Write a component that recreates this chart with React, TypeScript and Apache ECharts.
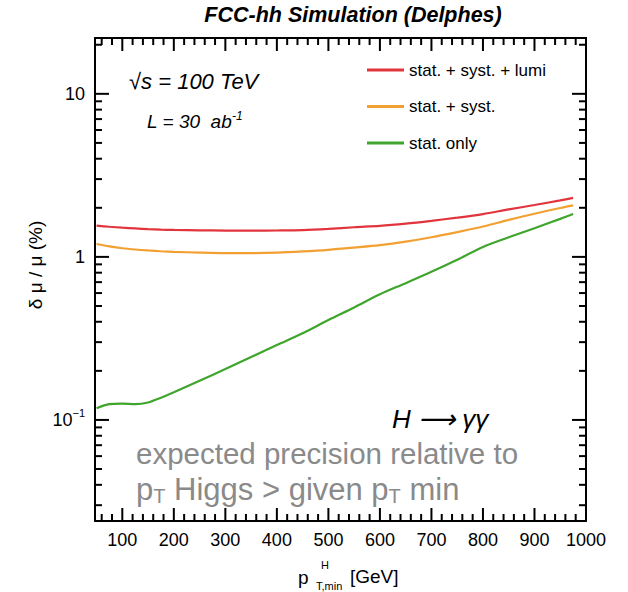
import { useEffect, useRef } from "react";
import * as echarts from "echarts";

const ptMin = [50, 75, 100, 125, 150, 175, 200, 250, 300, 350, 400, 450, 500, 550, 600, 650, 700, 750, 800, 850, 900, 950, 975];
const statSystLumi = [1.555, 1.53, 1.51, 1.495, 1.48, 1.47, 1.463, 1.455, 1.45, 1.449, 1.452, 1.46, 1.485, 1.52, 1.55, 1.6, 1.665, 1.74, 1.83, 1.955, 2.08, 2.22, 2.3];
const statSyst = [1.2, 1.16, 1.13, 1.11, 1.095, 1.083, 1.074, 1.062, 1.055, 1.055, 1.062, 1.08, 1.105, 1.14, 1.18, 1.24, 1.32, 1.42, 1.535, 1.686, 1.84, 1.995, 2.07];
const statOnly = [0.118, 0.125, 0.126, 0.125, 0.128, 0.137, 0.148, 0.174, 0.205, 0.243, 0.288, 0.34, 0.41, 0.49, 0.59, 0.69, 0.81, 0.96, 1.15, 1.318, 1.5, 1.71, 1.83];
const seriesNames = ["stat. + syst. + lumi", "stat. + syst.", "stat. only"];
const seriesColors = ["#e2343c", "#f3a032", "#3fa52c"];

const X_MIN = 47;
const X_MAX = 1000;
const Y_MIN = 0.024;
const Y_MAX = 22;
const xMajorTicks = [100, 200, 300, 400, 500, 600, 700, 800, 900];
const xMinorTicks = [60, 80, 120, 140, 160, 180, 220, 240, 260, 280, 320, 340, 360, 380, 420, 440, 460, 480, 520, 540, 560, 580, 620, 640, 660, 680, 720, 740, 760, 780, 820, 840, 860, 880, 920, 940, 960, 980];
const yMajorTicks = [0.1, 1, 10];
const yMinorTicks = [0.03, 0.04, 0.05, 0.06, 0.07, 0.08, 0.09, 0.2, 0.3, 0.4, 0.5, 0.6, 0.7, 0.8, 0.9, 2, 3, 4, 5, 6, 7, 8, 9, 20];

const FONT = '"Liberation Sans", Arial, Helvetica, sans-serif';
const TICK_COLOR = "#000";

export default function App() {
  const ref = useRef<HTMLDivElement>(null);
  useEffect(() => {
    if (!ref.current) return;
    const chart = echarts.init(ref.current, null, { renderer: "svg" });
    const mk = (vals: number[]) => ptMin.map((x, i) => [x, vals[i]]);
    const allVals = [statSystLumi, statSyst, statOnly];
    const lineSeries = allVals.map((vals, i) => ({
      name: seriesNames[i],
      type: "line",
      data: mk(vals),
      smooth: 0.3,
      showSymbol: false,
      symbol: "circle",
      symbolSize: 3,
      lineStyle: { color: seriesColors[i], width: 2.2 },
      itemStyle: { color: seriesColors[i] },
      z: 3,
    }));
    const yTickSeries = (vals: number[], len: number, w: number) => ({
      type: "custom",
      silent: true,
      clip: false,
      data: vals.map((v) => [X_MIN, v]),
      renderItem: (_p: any, api: any) => {
        const v = api.value(1);
        const a = api.coord([X_MIN, v]);
        const b = api.coord([X_MAX, v]);
        return {
          type: "group",
          children: [
            { type: "line", shape: { x1: a[0], y1: a[1], x2: a[0] + len, y2: a[1] }, style: { stroke: TICK_COLOR, lineWidth: w } },
            { type: "line", shape: { x1: b[0] - len, y1: b[1], x2: b[0], y2: b[1] }, style: { stroke: TICK_COLOR, lineWidth: w } },
          ],
        };
      },
    });
    const xTickSeries = (vals: number[], len: number, w: number) => ({
      type: "custom",
      silent: true,
      clip: false,
      data: vals.map((v) => [v, Y_MIN]),
      renderItem: (_p: any, api: any) => {
        const v = api.value(0);
        const a = api.coord([v, Y_MIN]);
        const b = api.coord([v, Y_MAX]);
        return {
          type: "group",
          children: [
            { type: "line", shape: { x1: a[0], y1: a[1], x2: a[0], y2: a[1] - len }, style: { stroke: TICK_COLOR, lineWidth: w } },
            { type: "line", shape: { x1: b[0], y1: b[1], x2: b[0], y2: b[1] + len }, style: { stroke: TICK_COLOR, lineWidth: w } },
          ],
        };
      },
    });
    const frameAxis = { show: true, onZero: false, lineStyle: { color: "#000", width: 2 } };
    const option: any = {
      animation: false,
      backgroundColor: "#fff",
      textStyle: { fontFamily: FONT },
      grid: { left: 95, top: 38, width: 491, height: 483, show: false },
      legend: {
        data: seriesNames,
        orient: "vertical",
        left: 362,
        top: 55,
        itemWidth: 37,
        itemHeight: 3,
        itemGap: 16.5,
        icon: "rect",
        textStyle: { fontFamily: FONT, fontSize: 17, color: "#000", lineHeight: 20 },
      },
      xAxis: [
        {
          type: "value",
          min: X_MIN,
          max: X_MAX,
          splitNumber: 10,
          axisLine: frameAxis,
          axisTick: { show: false },
          axisLabel: { showMinLabel: false, fontSize: 18, color: "#000", margin: 10, fontFamily: FONT, formatter: (v: number) => String(Math.round(v)) },
          splitLine: { show: false },
        },
        {
          type: "value",
          position: "top",
          min: X_MIN,
          max: X_MAX,
          axisLine: frameAxis,
          axisTick: { show: false },
          axisLabel: { show: false },
          splitLine: { show: false },
        },
      ],
      yAxis: [
        {
          type: "log",
          logBase: 10,
          min: Y_MIN,
          max: Y_MAX,
          axisLine: frameAxis,
          axisTick: { show: false },
          axisLabel: {
            showMinLabel: false,
            showMaxLabel: false,
            margin: 10,
            color: "#000",
            fontFamily: FONT,
            formatter: (v: number) => {
              const e = Math.round(Math.log10(v));
              if (e === 0) return "{b|1}";
              if (e === 1) return "{b|10}";
              return "{b|10}{s|\u2212" + Math.abs(e) + "}";
            },
            rich: {
              b: { fontSize: 18, lineHeight: 24, fontFamily: FONT, color: "#000" },
              s: { fontSize: 11, verticalAlign: "top", lineHeight: 14, fontFamily: FONT, color: "#000" },
            },
          },
          splitLine: { show: false },
        },
        {
          type: "log",
          logBase: 10,
          position: "right",
          min: Y_MIN,
          max: Y_MAX,
          axisLine: frameAxis,
          axisTick: { show: false },
          axisLabel: { show: false },
          splitLine: { show: false },
        },
      ],
      series: [
        ...lineSeries,
        yTickSeries(yMajorTicks, 14, 2),
        yTickSeries(yMinorTicks, 7, 2),
        xTickSeries(xMajorTicks, 13, 2),
        xTickSeries(xMinorTicks, 7, 2),
      ],
      graphic: [
        {
          type: "text",
          x: 353,
          y: 15,
          style: { text: "FCC-hh Simulation (Delphes)", font: `italic bold 21.5px ${FONT}`, fill: "#000", textAlign: "center", textVerticalAlign: "middle" },
        },
        {
          type: "text",
          x: 129,
          y: 81,
          style: { text: "\u221As = 100 TeV", font: `italic 22px ${FONT}`, fill: "#000", textAlign: "left", textVerticalAlign: "middle" },
        },
        {
          type: "text",
          x: 147,
          y: 121,
          style: {
            text: "{m|L = 30  ab}{s|-1}",
            textAlign: "left",
            textVerticalAlign: "middle",
            rich: {
              m: { font: `italic 19px ${FONT}`, fill: "#000", lineHeight: 22 },
              s: { font: `italic 12px ${FONT}`, fill: "#000", verticalAlign: "top", lineHeight: 12 },
            },
          },
        },
        {
          type: "text",
          x: 392,
          y: 419,
          style: { text: "H \u27F6 \u03B3\u03B3", font: `italic 26px ${FONT}`, fill: "#000", textAlign: "left", textVerticalAlign: "middle" },
        },
        {
          type: "text",
          x: 136,
          y: 453,
          style: { text: "expected precision relative to", font: `29.5px ${FONT}`, fill: "#8a8a8a", textAlign: "left", textVerticalAlign: "middle" },
        },
        {
          type: "text",
          x: 136,
          y: 489,
          style: {
            text: "{a|p}{b|T}{a| Higgs > given p}{b|T}{a| min}",
            textAlign: "left",
            textVerticalAlign: "middle",
            rich: {
              a: { font: `31px ${FONT}`, fill: "#8a8a8a", lineHeight: 34 },
              b: { font: `20px ${FONT}`, fill: "#8a8a8a", verticalAlign: "bottom", lineHeight: 22 },
            },
          },
        },
        {
          type: "text",
          x: 35,
          y: 265,
          rotation: Math.PI / 2,
          style: { text: "\u03B4 \u03BC / \u03BC (%)", font: `19px ${FONT}`, fill: "#000", textAlign: "center", textVerticalAlign: "middle" },
        },
        {
          type: "text",
          x: 298,
          y: 577,
          style: { text: "p", font: `19px ${FONT}`, fill: "#000", textAlign: "left", textVerticalAlign: "middle" },
        },
        {
          type: "text",
          x: 321,
          y: 565,
          style: { text: "H", font: `11px ${FONT}`, fill: "#000", textAlign: "left", textVerticalAlign: "middle" },
        },
        {
          type: "text",
          x: 316,
          y: 586,
          style: { text: "T,min", font: `11px ${FONT}`, fill: "#000", textAlign: "left", textVerticalAlign: "middle" },
        },
        {
          type: "text",
          x: 350,
          y: 576,
          style: { text: "[GeV]", font: `19px ${FONT}`, fill: "#000", textAlign: "left", textVerticalAlign: "middle" },
        },
      ],
    };
    chart.setOption(option);
    return () => chart.dispose();
  }, []);
  return <div ref={ref} style={{ position: "fixed", left: 0, top: 0, width: 628, height: 592 }} />;
}
